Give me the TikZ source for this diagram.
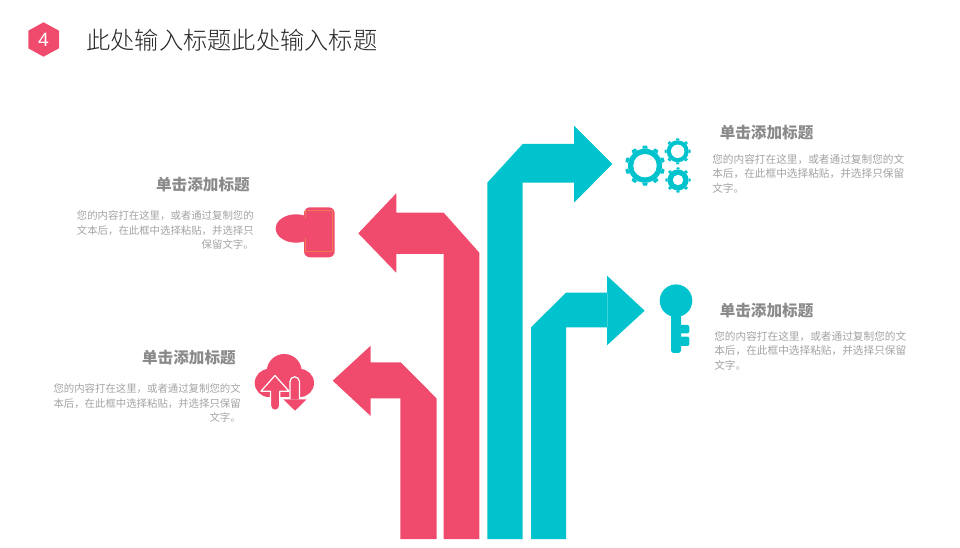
\documentclass[tikz,border=0pt]{standalone}
\usepackage{fontspec}
\setmainfont{Liberation Sans}
\newfontfamily\cjk{Noto Sans CJK SC}
\newfontfamily\cjklight{Noto Sans CJK SC Light}
\definecolor{rosered}{HTML}{F04B6D}
\definecolor{tealblue}{HTML}{00C3CD}
\definecolor{headgray}{HTML}{8A8A8A}
\definecolor{bodygray}{HTML}{A3A3A3}
\definecolor{rimorange}{HTML}{EE7A55}
\tikzset{
  rosefill/.style={fill=rosered,draw=none},
  tealfill/.style={fill=tealblue,draw=none},
  whiterim/.style={fill=rosered,draw=white,line width=0.9pt,line join=round},
  heading/.style={font=\cjk\bfseries\fontsize{11.7}{14}\selectfont,text=headgray,inner sep=0pt},
  bodytext/.style={font=\cjk\fontsize{8}{10.9}\selectfont,text=bodygray,inner sep=0pt},
  bodyleft/.style={font=\cjk\fontsize{7.8}{10.9}\selectfont,text=bodygray,inner sep=0pt},
}
% gear: centre x, centre y, ring radius, tooth radius, hole radius, number of teeth
\newcommand{\gearicon}[6]{
  \foreach \ang in {1,...,#6}
    \fill[tealblue,rotate around={\ang*360/#6:(#1,#2)}] (#1-#4*0.14,#2-#3) -- (#1-#4*0.1,#2-#4) -- (#1+#4*0.1,#2-#4) -- (#1+#4*0.14,#2-#3) -- cycle;
  \fill[tealblue] (#1,#2) circle (#3);
  \fill[white] (#1,#2) circle (#5);
}
\begin{document}
\begin{tikzpicture}[x=0.75pt,y=-0.75pt]
\useasboundingbox (0,0) rectangle (960,548);

% title
\fill[rosefill] (43.5,22.3) -- (59,30.7) -- (59,48.3) -- (43.5,56.7) -- (28.3,48.3) -- (28.3,30.7) -- cycle;
\node[text=white,font=\fontsize{14.5}{16}\selectfont,inner sep=0pt] (num) at (43.5,39.5) {4};
\node[anchor=west,inner sep=0pt,text=black!85,font=\cjklight\fontsize{18.2}{20}\selectfont] (title) at (86,40) {此处输入标题此处输入标题};

% arrows
\fill[rosefill] (332.7,380.7) -- (370.7,345.7) -- (370.7,362.3) -- (400.7,362.3) -- (436.5,398.3) -- (436.5,539) -- (400.3,539) -- (400.3,398.3) -- (370.7,398.3) -- (370.7,416) -- cycle;
\fill[rosefill] (358.3,233.3) -- (396.3,193.3) -- (396.3,212.7) -- (443.7,212.7) -- (479.3,252.7) -- (479.3,539) -- (443.7,539) -- (443.7,254) -- (396.3,254) -- (396.3,272.7) -- cycle;
\fill[tealfill] (612.3,164) -- (574,125.7) -- (574,144) -- (522.7,144) -- (487.3,182.7) -- (487.3,539) -- (522.7,539) -- (522.7,182.7) -- (574,182.7) -- (574,202.7) -- cycle;
\fill[tealfill] (644.7,310.7) -- (607,275.7) -- (607,292.7) -- (566,292.7) -- (531,327.3) -- (531,539) -- (566,539) -- (566,327.3) -- (607,327.3) -- (607,345.3) -- cycle;
\draw[white,opacity=.25,line width=0.5pt] (607,292.7) -- (607,327.3);

% person icon
\fill[rosefill] (296,228.5) ellipse (20.3 and 14.2);
\fill[rosefill,rounded corners=4.5pt] (304,207.3) rectangle (334.7,257.3);
\draw[rimorange,line width=0.5pt] (305.7,218) -- (305.7,210.7) -- (332.7,210.7) -- (332.7,251.7) -- (305.7,251.7) -- (305.7,238);

% cloud icon
\fill[rosefill] (284.2,371.5) circle (17.5);
\fill[rosefill] (268.7,383) circle (14);
\fill[rosefill] (300,383) circle (14);
\fill[rosefill] (268.7,375) rectangle (300,397);
\path[whiterim] (275,375.5) -- (289,391.2) -- (279.7,391.2) -- (279.7,405.8) arc (0:180:4.6) -- (270.5,391.2) -- (261,391.2) -- cycle;
\path[whiterim] (290,400) -- (290,381.5) arc (180:360:4.7) -- (299.4,400) -- cycle;
\fill[rosefill] (283.3,399.3) -- (306.7,399.3) -- (295,410.7) -- cycle;

% gears
\gearicon{645}{165.7}{17}{20}{11.7}{10}
\gearicon{677.7}{151.3}{11}{13}{6.7}{8}
\gearicon{678}{180}{10.5}{12.7}{5.2}{8}

% key
\fill[tealfill] (676,300.7) circle (16.3);
\fill[tealfill,rounded corners=2pt] (671,310) rectangle (681,353);
\fill[tealfill,rounded corners=1.5pt] (676,325) rectangle (689.3,333.3);
\fill[tealfill,rounded corners=1.5pt] (676,336.7) rectangle (689.3,346);

% left texts
\node[heading,anchor=east] (headlt) at (250,185) {单击添加标题};
\node[bodyleft,anchor=north east,align=right] (bodylt) at (254,210.5) {您的内容打在这里，或者通过复制您的\\文本后，在此框中选择粘贴，并选择只\\保留文字。};
\node[heading,anchor=east] (headlb) at (236,358) {单击添加标题};
\node[bodyleft,anchor=north east,align=right] (bodylb) at (241,383.5) {您的内容打在这里，或者通过复制您的文\\本后，在此框中选择粘贴，并选择只保留\\文字。};

% right texts
\node[heading,anchor=west] (headrt) at (719.5,133) {单击添加标题};
\node[bodytext,anchor=north west,align=left] (bodyrt) at (712,154) {您的内容打在这里，或者通过复制您的文\\本后，在此框中选择粘贴，并选择只保留\\文字。};
\node[heading,anchor=west] (headrb) at (719.5,311) {单击添加标题};
\node[bodytext,anchor=north west,align=left] (bodyrb) at (714,331) {您的内容打在这里，或者通过复制您的文\\本后，在此框中选择粘贴，并选择只保留\\文字。};
\end{tikzpicture}
\end{document}
